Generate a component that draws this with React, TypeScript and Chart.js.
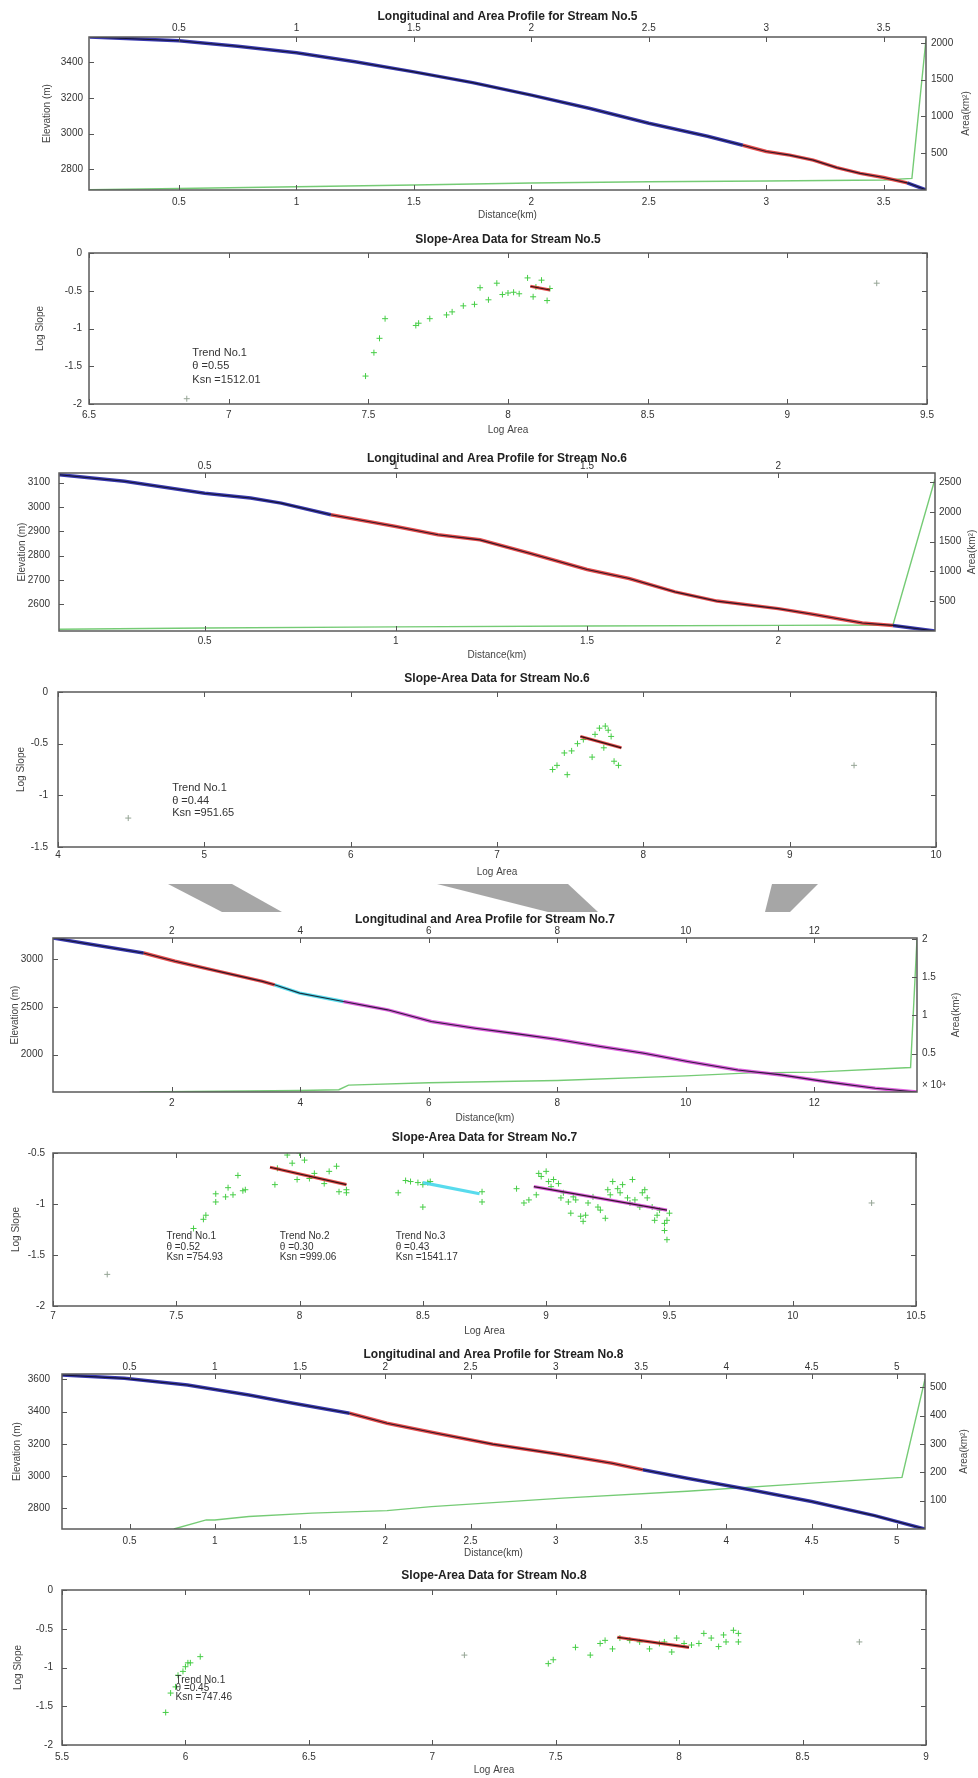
import React, { useEffect, useRef } from "react";
import { Chart, registerables } from "chart.js";
Chart.register(...registerables);

const FONT = "'Liberation Sans', Arial, Helvetica, sans-serif";
const PAGE_W = 978;
const PAGE_H = 1778;

// ================= Stream No.5 =================
const s5Dist = [0.12, 0.3, 0.5, 0.75, 1.0, 1.25, 1.5, 1.75, 2.0, 2.25, 2.5, 2.75, 2.9, 3.0, 3.1, 3.2, 3.3, 3.4, 3.5, 3.6, 3.68];
const s5Elev = [3540, 3530, 3519, 3488, 3452, 3402, 3345, 3285, 3215, 3140, 3058, 2985, 2935, 2900, 2880, 2852, 2810, 2778, 2755, 2725, 2686];
const s5Breaks = [2.9, 3.6];
const s5Kinds = ["blue", "red", "blue"];
const s5AreaDist = [0.12, 0.5, 1.0, 1.5, 2.0, 2.5, 3.0, 3.5, 3.62, 3.68];
const s5Area = [5, 20, 45, 68, 95, 113, 122, 135, 158, 2050];
const s5DistTicks = [0.5, 1, 1.5, 2, 2.5, 3, 3.5];
const s5ElevTicks = [2800, 3000, 3200, 3400];
const s5AreaTicks = [500, 1000, 1500, 2000];

const s5LogA = [7.49, 7.52, 7.54, 7.56, 7.67, 7.68, 7.72, 7.78, 7.8, 7.84, 7.88, 7.9, 7.93, 7.96, 7.98, 8.0, 8.02, 8.04, 8.07, 8.09, 8.1, 8.12, 8.14, 8.15];
const s5LogS = [-1.63, -1.32, -1.13, -0.87, -0.96, -0.93, -0.87, -0.82, -0.78, -0.7, -0.68, -0.46, -0.62, -0.4, -0.55, -0.53, -0.52, -0.54, -0.33, -0.58, -0.45, -0.36, -0.63, -0.47];
const s5OutA = [6.85, 9.32];
const s5OutS = [-1.93, -0.4];
const s5TrendA = [8.08, 8.15];
const s5TrendS = [-0.44, -0.49];
const s5LogATicks = [6.5, 7, 7.5, 8, 8.5, 9, 9.5];
const s5LogSTicks = [-2, -1.5, -1, -0.5, 0];
const s5Text = ["Trend No.1", "θ =0.55", "Ksn =1512.01"];
const s5TextPos = [6.87, -1.33, -1.5, -1.68];

// ================= Stream No.6 =================
const s6Dist = [0.12, 0.29, 0.5, 0.62, 0.7, 0.83, 1.0, 1.11, 1.22, 1.35, 1.5, 1.61, 1.73, 1.84, 2.0, 2.09, 2.22, 2.3, 2.41];
const s6Elev = [3133, 3106, 3057, 3037, 3016, 2968, 2920, 2886, 2865, 2810, 2743, 2706, 2651, 2613, 2582, 2559, 2523, 2513, 2490];
const s6Breaks = [0.83, 2.3];
const s6Kinds = ["blue", "red", "blue"];
const s6AreaDist = [0.12, 0.5, 1.0, 1.5, 2.0, 2.3, 2.41];
const s6Area = [30, 50, 70, 85, 95, 100, 2550];
const s6DistTicks = [0.5, 1, 1.5, 2];
const s6ElevTicks = [2600, 2700, 2800, 2900, 3000, 3100];
const s6AreaTicks = [500, 1000, 1500, 2000, 2500];

const s6LogA = [7.38, 7.41, 7.46, 7.48, 7.51, 7.55, 7.59, 7.65, 7.67, 7.7, 7.73, 7.74, 7.76, 7.78, 7.8, 7.83];
const s6LogS = [-0.75, -0.71, -0.59, -0.8, -0.57, -0.5, -0.46, -0.63, -0.41, -0.35, -0.54, -0.33, -0.37, -0.43, -0.67, -0.71];
const s6OutA = [4.48, 9.44];
const s6OutS = [-1.22, -0.71];
const s6TrendA = [7.57, 7.85];
const s6TrendS = [-0.43, -0.54];
const s6LogATicks = [4, 5, 6, 7, 8, 9, 10];
const s6LogSTicks = [-1.5, -1, -0.5, 0];
const s6Text = ["Trend No.1", "θ =0.44", "Ksn =951.65"];
const s6TextPos = [4.78, -0.93, -1.05, -1.17];

// ================= Stream No.7 =================
const s7Dist = [0.15, 0.78, 1.56, 2.05, 2.73, 3.41, 3.6, 3.99, 4.67, 5.36, 6.04, 6.72, 7.3, 7.98, 8.67, 9.35, 10.03, 10.81, 11.49, 12.17, 12.95, 13.6];
const s7Elev = [3220, 3150, 3063, 2976, 2871, 2766, 2730, 2643, 2556, 2468, 2346, 2276, 2224, 2161, 2084, 2014, 1927, 1839, 1787, 1717, 1647, 1608];
const s7Breaks = [1.56, 3.6, 4.67];
const s7Kinds = ["blue", "red", "cyan", "magenta"];
const s7AreaDist = [1.5, 4.0, 4.6, 4.75, 6.0, 8.0, 10.0, 11.0, 12.0, 13.5, 13.6];
const s7Area = [0.0, 0.02, 0.03, 0.09, 0.12, 0.15, 0.21, 0.25, 0.26, 0.32, 2.0];
const s7DistTicks = [2, 4, 6, 8, 10, 12];
const s7ElevTicks = [2000, 2500, 3000];
const s7AreaTicks = [0.5, 1, 1.5, 2];

const s7LogA = [
  7.57, 7.61, 7.62, 7.66, 7.66, 7.7, 7.71, 7.73, 7.75, 7.77, 7.78,
  7.9, 7.91, 7.95, 7.97, 8.0, 8.02, 7.99, 8.04, 8.06, 8.1, 8.12, 8.15, 8.16, 8.19, 8.19,
  8.4, 8.43, 8.45, 8.48, 8.5, 8.52, 8.53, 8.5, 8.74, 8.74,
  8.88, 8.91, 8.93, 8.96, 8.97, 8.98, 9.0, 9.01, 9.02, 9.03, 9.05, 9.06, 9.07, 9.09, 9.1, 9.11, 9.12, 9.14, 9.15, 9.16,
  9.17, 9.19, 9.21, 9.22, 9.24, 9.25, 9.26, 9.27, 9.29, 9.3, 9.31, 9.33, 9.34, 9.35, 9.36, 9.38, 9.39, 9.4, 9.41, 9.43,
  9.44, 9.45, 9.46, 9.48, 9.48, 9.49, 9.5, 9.49,
];
const s7LogS = [
  -1.24, -1.15, -1.11, -0.98, -0.9, -0.93, -0.84, -0.91, -0.72, -0.87, -0.86,
  -0.81, -0.65, -0.52, -0.6, -0.5, -0.57, -0.76, -0.75, -0.7, -0.8, -0.68, -0.63, -0.88, -0.86, -0.89,
  -0.89, -0.77, -0.78, -0.79, -0.81, -0.79, -0.78, -1.03, -0.98, -0.88,
  -0.85, -0.99, -0.96, -0.91, -0.7, -0.73, -0.68, -0.78, -0.83, -0.76, -0.8, -0.94, -0.89, -0.98, -1.09, -0.93, -0.96, -1.12, -1.17, -1.11,
  -0.99, -0.93, -1.03, -1.06, -1.14, -0.86, -0.91, -0.78, -0.85, -0.89, -0.81, -0.94, -0.99, -0.76, -0.96, -1.03, -0.89, -0.86, -0.94, -1.03,
  -1.16, -1.11, -1.06, -1.19, -1.26, -1.35, -1.09, -1.16,
];
const s7OutA = [7.22, 10.32];
const s7OutS = [-1.69, -0.99];
const s7Trend2A = [7.88, 8.19];
const s7Trend2S = [-0.64, -0.81];
const s7Trend3A = [8.5, 8.73];
const s7Trend3S = [-0.79, -0.9];
const s7Trend4A = [8.95, 9.49];
const s7Trend4S = [-0.83, -1.06];
const s7LogATicks = [7, 7.5, 8, 8.5, 9, 9.5, 10, 10.5];
const s7LogSTicks = [-2, -1.5, -1, -0.5];
const s7Text1 = ["Trend No.1", "θ =0.52", "Ksn =754.93"];
const s7Text2 = ["Trend No.2", "θ =0.30", "Ksn =999.06"];
const s7Text3 = ["Trend No.3", "θ =0.43", "Ksn =1541.17"];
const s7TextX = [7.46, 7.92, 8.39];
const s7TextY = [-1.32, -1.42, -1.52];

// ================= Stream No.8 =================
const s8Dist = [0.104, 0.47, 0.84, 1.2, 1.46, 1.79, 2.01, 2.3, 2.63, 3.0, 3.33, 3.51, 3.77, 4.14, 4.5, 4.87, 5.165];
const s8Elev = [3627, 3606, 3565, 3503, 3452, 3390, 3328, 3266, 3198, 3138, 3080, 3039, 2987, 2915, 2842, 2755, 2672];
const s8Breaks = [1.79, 3.51];
const s8Kinds = ["blue", "red", "blue"];
const s8AreaDist = [0.76, 0.95, 1.0, 1.2, 1.57, 2.01, 2.27, 3.04, 3.77, 4.5, 5.03, 5.165];
const s8Area = [0, 32, 32, 44, 56, 65, 79, 109, 133, 162, 182, 529];
const s8DistTicks = [0.5, 1, 1.5, 2, 2.5, 3, 3.5, 4, 4.5, 5];
const s8ElevTicks = [2800, 3000, 3200, 3400, 3600];
const s8AreaTicks = [100, 200, 300, 400, 500];

const s8LogA = [5.92, 5.94, 5.96, 5.97, 5.99, 6.0, 6.01, 6.02, 6.06, 7.47, 7.49, 7.58, 7.64, 7.68, 7.7, 7.73, 7.76, 7.8, 7.84, 7.88, 7.92, 7.94, 7.97, 7.99, 8.02, 8.05, 8.08, 8.1, 8.13, 8.16, 8.18, 8.19, 8.22, 8.24, 8.24];
const s8LogS = [-1.58, -1.33, -1.25, -1.1, -1.05, -0.99, -0.94, -0.94, -0.86, -0.95, -0.9, -0.74, -0.84, -0.69, -0.65, -0.76, -0.62, -0.65, -0.67, -0.76, -0.69, -0.67, -0.8, -0.62, -0.69, -0.71, -0.69, -0.56, -0.62, -0.73, -0.58, -0.67, -0.52, -0.56, -0.67];
const s8OutA = [7.13, 8.73];
const s8OutS = [-0.84, -0.67];
const s8TrendA = [7.75, 8.04];
const s8TrendS = [-0.61, -0.74];
const s8LogATicks = [5.5, 6, 6.5, 7, 7.5, 8, 8.5, 9];
const s8LogSTicks = [-2, -1.5, -1, -0.5, 0];
const s8Text = ["Trend No.1", "θ =0.45", "Ksn =747.46"];
const s8TextPos = [5.96, -1.16, -1.27, -1.38];

// ================= styling =================
const SEG: Record<string, string> = {
  blue: "rgba(35,35,165,0.9)",
  red: "rgba(225,45,45,0.85)",
  cyan: "rgba(70,215,235,0.9)",
  magenta: "rgba(215,70,215,0.85)",
};
const GREEN_LINE = "rgba(110,200,110,0.95)";
const GREEN_PT = "rgb(70,205,70)";
const GREY_PT = "rgb(150,165,150)";

const fmt = (v: number) => String(Math.round(v * 1000) / 1000);

function axis(pos: string, min: number, max: number, ticks: number[], size: number, pad: number) {
  const horizontal = pos === "top" || pos === "bottom";
  return {
    type: "linear",
    position: pos,
    min,
    max,
    afterBuildTicks: (s: any) => {
      s.ticks = ticks.map((v) => ({ value: v }));
    },
    afterFit: (s: any) => {
      if (horizontal) s.height = size;
      else s.width = size;
      s.paddingLeft = 0;
      s.paddingRight = 0;
      s.paddingTop = 0;
      s.paddingBottom = 0;
    },
    grid: { display: false, drawTicks: false },
    border: { display: false },
    ticks: {
      autoSkip: false,
      maxRotation: 0,
      minRotation: 0,
      padding: pad,
      font: { family: FONT, size: 10 },
      color: "#333",
      callback: (v: any) => fmt(Number(v)),
    },
  };
}

type Annot = { x: number; ys: number[]; lines: string[] };

function makeDeco(spec: any) {
  return {
    id: "deco",
    afterDraw(chart: any) {
      const ctx = chart.ctx as CanvasRenderingContext2D;
      const a = chart.chartArea;
      const off = spec.top;
      const sx = chart.scales.x;
      const sy = chart.scales.y;
      const sx2 = chart.scales.x2;
      const sy2 = chart.scales.y2;
      const tl = 5;
      ctx.save();
      ctx.strokeStyle = "#555";
      ctx.lineWidth = 1;
      const line = (x1: number, y1: number, x2: number, y2: number) => {
        ctx.beginPath();
        ctx.moveTo(x1, y1);
        ctx.lineTo(x2, y2);
        ctx.stroke();
      };
      sx.ticks.forEach((t: any) => {
        const p = Math.round(sx.getPixelForValue(t.value)) + 0.5;
        line(p, a.bottom, p, a.bottom - tl);
        if (!sx2) line(p, a.top, p, a.top + tl);
      });
      if (sx2)
        sx2.ticks.forEach((t: any) => {
          const p = Math.round(sx2.getPixelForValue(t.value)) + 0.5;
          line(p, a.top, p, a.top + tl);
        });
      sy.ticks.forEach((t: any) => {
        const p = Math.round(sy.getPixelForValue(t.value)) + 0.5;
        line(a.left, p, a.left + tl, p);
        if (!sy2) line(a.right, p, a.right - tl, p);
      });
      if (sy2)
        sy2.ticks.forEach((t: any) => {
          const p = Math.round(sy2.getPixelForValue(t.value)) + 0.5;
          line(a.right, p, a.right - tl, p);
        });
      ctx.strokeStyle = "#5a5a5a";
      ctx.lineWidth = 1.5;
      ctx.strokeRect(a.left, a.top, a.right - a.left, a.bottom - a.top);

      const cx = (a.left + a.right) / 2;
      const cy = (a.top + a.bottom) / 2;
      ctx.fillStyle = "#222";
      ctx.textAlign = "center";
      ctx.textBaseline = "middle";
      ctx.font = `bold 12px ${FONT}`;
      ctx.fillText(spec.title, cx, spec.titleY - off);
      ctx.fillStyle = "#444";
      ctx.font = `10px ${FONT}`;
      ctx.fillText(spec.xlabel, cx, spec.xlabelY - off);
      ctx.save();
      ctx.translate(spec.ylabelX, cy);
      ctx.rotate(-Math.PI / 2);
      ctx.fillText(spec.ylabel, 0, 0);
      ctx.restore();
      if (spec.y2label) {
        ctx.save();
        ctx.translate(spec.y2labelX, cy);
        ctx.rotate(-Math.PI / 2);
        ctx.fillText(spec.y2label, 0, 0);
        ctx.restore();
      }
      if (spec.extra) {
        ctx.textAlign = "left";
        ctx.fillStyle = "#333";
        ctx.fillText(spec.extra.text, spec.extra.x, spec.extra.y - off);
      }
      if (spec.annots) {
        ctx.textAlign = "left";
        ctx.fillStyle = "#333";
        ctx.font = `${spec.annotSize || 10}px ${FONT}`;
        (spec.annots as Annot[]).forEach((an) => {
          const px = sx.getPixelForValue(an.x);
          an.lines.forEach((s, i) => ctx.fillText(s, px, sy.getPixelForValue(an.ys[i])));
        });
      }
      ctx.restore();
    },
  };
}

function pts(xs: number[], ys: number[]) {
  return xs.map((x, i) => ({ x, y: ys[i] }));
}

function profileConfig(spec: any): any {
  const { box, top, h } = spec;
  const datasets: any[] = [];
  const all = pts(spec.dist, spec.elev);
  datasets.push({
    data: all,
    showLine: true,
    pointRadius: 0,
    borderColor: "rgba(15,15,30,0.85)",
    borderWidth: 1.1,
    order: 0,
    xAxisID: "x",
    yAxisID: "y",
  });
  const bounds = [spec.dist[0], ...spec.breaks, spec.dist[spec.dist.length - 1]];
  spec.kinds.forEach((k: string, i: number) => {
    const lo = bounds[i] - 1e-9;
    const hi = bounds[i + 1] + 1e-9;
    datasets.push({
      data: all.filter((p) => p.x >= lo && p.x <= hi),
      showLine: true,
      pointRadius: 0,
      borderColor: SEG[k],
      borderWidth: 3.5,
      order: 1,
      xAxisID: "x",
      yAxisID: "y",
    });
  });
  datasets.push({
    data: pts(spec.areaDist, spec.area),
    showLine: true,
    pointRadius: 0,
    borderColor: GREEN_LINE,
    borderWidth: 1.4,
    order: 2,
    xAxisID: "x",
    yAxisID: "y2",
  });
  return {
    type: "scatter",
    data: { datasets },
    options: {
      animation: false,
      responsive: false,
      devicePixelRatio: 1,
      layout: { padding: 0 },
      plugins: { legend: { display: false }, tooltip: { enabled: false }, title: { display: false } },
      scales: {
        x: axis("bottom", spec.xMin, spec.xMax, spec.xTicks, top + h - box.b, spec.padBottom),
        x2: axis("top", spec.xMin, spec.xMax, spec.xTicks, box.t - top, spec.padTop),
        y: axis("left", spec.yMin, spec.yMax, spec.yTicks, box.l, spec.padLeft),
        y2: axis("right", spec.y2Min, spec.y2Max, spec.y2Ticks, PAGE_W - box.r, spec.padRight),
      },
    },
    plugins: [makeDeco(spec)],
  };
}

function slopeConfig(spec: any): any {
  const { box, top, h } = spec;
  const datasets: any[] = [];
  spec.trends.forEach((t: any) => {
    if (t.core)
      datasets.push({
        data: pts(t.a, t.s),
        showLine: true,
        pointRadius: 0,
        borderColor: "rgba(20,10,10,0.85)",
        borderWidth: 1.2,
        order: 0,
      });
    datasets.push({
      data: pts(t.a, t.s),
      showLine: true,
      pointRadius: 0,
      borderColor: SEG[t.kind],
      borderWidth: 3.2,
      order: 1,
    });
  });
  datasets.push({
    data: pts(spec.ptsA, spec.ptsS),
    showLine: false,
    pointStyle: "cross",
    pointRadius: 3,
    borderWidth: 1,
    borderColor: GREEN_PT,
    backgroundColor: GREEN_PT,
    order: 2,
  });
  datasets.push({
    data: pts(spec.outA, spec.outS),
    showLine: false,
    pointStyle: "cross",
    pointRadius: 3,
    borderWidth: 1,
    borderColor: GREY_PT,
    backgroundColor: GREY_PT,
    order: 2,
  });
  return {
    type: "scatter",
    data: { datasets },
    options: {
      animation: false,
      responsive: false,
      devicePixelRatio: 1,
      layout: { padding: { top: box.t - top, right: PAGE_W - box.r, left: 0, bottom: 0 } },
      plugins: { legend: { display: false }, tooltip: { enabled: false }, title: { display: false } },
      scales: {
        x: axis("bottom", spec.xMin, spec.xMax, spec.xTicks, top + h - box.b, spec.padBottom),
        y: axis("left", spec.yMin, spec.yMax, spec.yTicks, box.l, spec.padLeft),
      },
    },
    plugins: [makeDeco(spec)],
  };
}

const PANELS: any[] = [
  {
    kind: "profile", top: 0, h: 225, box: { l: 89, r: 926, t: 37, b: 190 },
    title: "Longitudinal and Area Profile for Stream No.5", titleY: 17,
    xlabel: "Distance(km)", xlabelY: 215, ylabel: "Elevation (m)", ylabelX: 47, y2label: "Area(km²)", y2labelX: 966,
    xMin: 0.117, xMax: 3.68, xTicks: s5DistTicks, yMin: 2685, yMax: 3540, yTicks: s5ElevTicks,
    y2Min: 0, y2Max: 2080, y2Ticks: s5AreaTicks, padTop: 3, padBottom: 6, padLeft: 6, padRight: 5,
    dist: s5Dist, elev: s5Elev, breaks: s5Breaks, kinds: s5Kinds, areaDist: s5AreaDist, area: s5Area,
  },
  {
    kind: "slope", top: 225, h: 215, box: { l: 89, r: 927, t: 253, b: 404 },
    title: "Slope-Area Data for Stream No.5", titleY: 240,
    xlabel: "Log Area", xlabelY: 430, ylabel: "Log Slope", ylabelX: 40,
    xMin: 6.5, xMax: 9.5, xTicks: s5LogATicks, yMin: -2, yMax: 0, yTicks: s5LogSTicks, padBottom: 5, padLeft: 7,
    ptsA: s5LogA, ptsS: s5LogS, outA: s5OutA, outS: s5OutS,
    trends: [{ a: s5TrendA, s: s5TrendS, kind: "red", core: true }],
    annots: [{ x: s5TextPos[0], ys: s5TextPos.slice(1), lines: s5Text }], annotSize: 11,
  },
  {
    kind: "profile", top: 440, h: 225, box: { l: 59, r: 935, t: 473, b: 631 },
    title: "Longitudinal and Area Profile for Stream No.6", titleY: 459,
    xlabel: "Distance(km)", xlabelY: 655, ylabel: "Elevation (m)", ylabelX: 22, y2label: "Area(km²)", y2labelX: 972,
    xMin: 0.119, xMax: 2.41, xTicks: s6DistTicks, yMin: 2490, yMax: 3140, yTicks: s6ElevTicks,
    y2Min: 0, y2Max: 2650, y2Ticks: s6AreaTicks, padTop: 1, padBottom: 4, padLeft: 9, padRight: 4,
    dist: s6Dist, elev: s6Elev, breaks: s6Breaks, kinds: s6Kinds, areaDist: s6AreaDist, area: s6Area,
  },
  {
    kind: "slope", top: 665, h: 217, box: { l: 58, r: 936, t: 692, b: 847 },
    title: "Slope-Area Data for Stream No.6", titleY: 679,
    xlabel: "Log Area", xlabelY: 872, ylabel: "Log Slope", ylabelX: 21,
    xMin: 4, xMax: 10, xTicks: s6LogATicks, yMin: -1.5, yMax: 0, yTicks: s6LogSTicks, padBottom: 2, padLeft: 10,
    ptsA: s6LogA, ptsS: s6LogS, outA: s6OutA, outS: s6OutS,
    trends: [{ a: s6TrendA, s: s6TrendS, kind: "red", core: true }],
    annots: [{ x: s6TextPos[0], ys: s6TextPos.slice(1), lines: s6Text }], annotSize: 11,
  },
  {
    kind: "profile", top: 905, h: 223, box: { l: 53, r: 917, t: 938, b: 1092 },
    title: "Longitudinal and Area Profile for Stream No.7", titleY: 920,
    xlabel: "Distance(km)", xlabelY: 1118, ylabel: "Elevation (m)", ylabelX: 15, y2label: "Area(km²)", y2labelX: 956,
    xMin: 0.15, xMax: 13.6, xTicks: s7DistTicks, yMin: 1608, yMax: 3220, yTicks: s7ElevTicks,
    y2Min: 0, y2Max: 2.01, y2Ticks: s7AreaTicks, padTop: 1, padBottom: 5, padLeft: 10, padRight: 5,
    dist: s7Dist, elev: s7Elev, breaks: s7Breaks, kinds: s7Kinds, areaDist: s7AreaDist, area: s7Area,
    extra: { text: "× 10⁴", x: 922, y: 1085 },
  },
  {
    kind: "slope", top: 1128, h: 215, box: { l: 53, r: 916, t: 1153, b: 1306 },
    title: "Slope-Area Data for Stream No.7", titleY: 1138,
    xlabel: "Log Area", xlabelY: 1331, ylabel: "Log Slope", ylabelX: 16,
    xMin: 7, xMax: 10.5, xTicks: s7LogATicks, yMin: -2, yMax: -0.5, yTicks: s7LogSTicks, padBottom: 4, padLeft: 8,
    ptsA: s7LogA, ptsS: s7LogS, outA: s7OutA, outS: s7OutS,
    trends: [
      { a: s7Trend2A, s: s7Trend2S, kind: "red", core: true },
      { a: s7Trend3A, s: s7Trend3S, kind: "cyan", core: false },
      { a: s7Trend4A, s: s7Trend4S, kind: "magenta", core: true },
    ],
    annots: [
      { x: s7TextX[0], ys: s7TextY, lines: s7Text1 },
      { x: s7TextX[1], ys: s7TextY, lines: s7Text2 },
      { x: s7TextX[2], ys: s7TextY, lines: s7Text3 },
    ],
    annotSize: 10,
  },
  {
    kind: "profile", top: 1343, h: 219, box: { l: 62, r: 925, t: 1374, b: 1529 },
    title: "Longitudinal and Area Profile for Stream No.8", titleY: 1355,
    xlabel: "Distance(km)", xlabelY: 1553, ylabel: "Elevation (m)", ylabelX: 17, y2label: "Area(km²)", y2labelX: 964,
    xMin: 0.104, xMax: 5.165, xTicks: s8DistTicks, yMin: 2672, yMax: 3633, yTicks: s8ElevTicks,
    y2Min: 0, y2Max: 547, y2Ticks: s8AreaTicks, padTop: 1, padBottom: 6, padLeft: 12, padRight: 5,
    dist: s8Dist, elev: s8Elev, breaks: s8Breaks, kinds: s8Kinds, areaDist: s8AreaDist, area: s8Area,
  },
  {
    kind: "slope", top: 1562, h: 216, box: { l: 62, r: 926, t: 1590, b: 1745 },
    title: "Slope-Area Data for Stream No.8", titleY: 1576,
    xlabel: "Log Area", xlabelY: 1770, ylabel: "Log Slope", ylabelX: 18,
    xMin: 5.5, xMax: 9, xTicks: s8LogATicks, yMin: -2, yMax: 0, yTicks: s8LogSTicks, padBottom: 6, padLeft: 9,
    ptsA: s8LogA, ptsS: s8LogS, outA: s8OutA, outS: s8OutS,
    trends: [{ a: s8TrendA, s: s8TrendS, kind: "red", core: true }],
    annots: [{ x: s8TextPos[0], ys: s8TextPos.slice(1), lines: s8Text }], annotSize: 10,
  },
];

function Panel({ spec }: { spec: any }) {
  const ref = useRef<HTMLCanvasElement>(null);
  useEffect(() => {
    const cfg = spec.kind === "profile" ? profileConfig(spec) : slopeConfig(spec);
    const chart = new Chart(ref.current as HTMLCanvasElement, cfg);
    return () => chart.destroy();
  }, [spec]);
  return (
    <canvas
      ref={ref}
      width={PAGE_W}
      height={spec.h}
      style={{ position: "absolute", left: 0, top: spec.top, width: PAGE_W, height: spec.h }}
    />
  );
}

const WM_SHAPES = [
  [[168, 884], [232, 884], [282, 912], [222, 912]],
  [[437, 884], [568, 884], [598, 912], [548, 912]],
  [[772, 884], [818, 884], [790, 912], [765, 912]],
];

function Watermark() {
  const ref = useRef<HTMLCanvasElement>(null);
  useEffect(() => {
    const c = ref.current as HTMLCanvasElement;
    const ctx = c.getContext("2d") as CanvasRenderingContext2D;
    ctx.clearRect(0, 0, c.width, c.height);
    ctx.fillStyle = "rgba(150,150,150,0.85)";
    WM_SHAPES.forEach((poly) => {
      ctx.beginPath();
      poly.forEach(([x, y], i) => (i ? ctx.lineTo(x, y - 870) : ctx.moveTo(x, y - 870)));
      ctx.closePath();
      ctx.fill();
    });
  }, []);
  return (
    <canvas
      ref={ref}
      width={PAGE_W}
      height={60}
      style={{ position: "absolute", left: 0, top: 870, width: PAGE_W, height: 60 }}
    />
  );
}

export default function App() {
  return (
    <div style={{ position: "absolute", left: 0, top: 0, width: PAGE_W, height: PAGE_H, background: "#fff", overflow: "hidden" }}>
      <Watermark />
      {PANELS.map((p, i) => (
        <Panel key={i} spec={p} />
      ))}
    </div>
  );
}
